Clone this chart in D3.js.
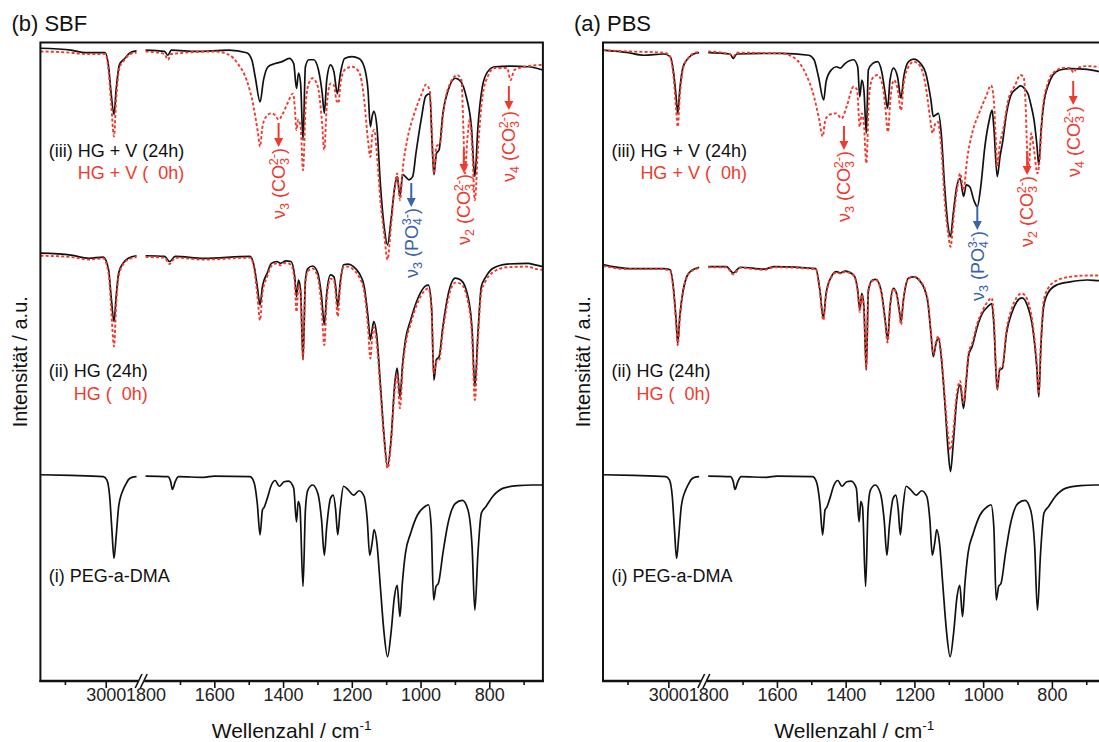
<!DOCTYPE html>
<html>
<head>
<meta charset="utf-8">
<script src="https://cdn.jsdelivr.net/npm/d3@7"></script>
<style>
  html, body { margin: 0; padding: 0; background: #fff; }
  svg { display: block; }
  text { font-family: "Liberation Sans", Arial, Helvetica, sans-serif; }
</style>
</head>
<body>
<svg id="chart" width="1099" height="742"></svg>
<script>
// ---------- FTIR spectra: [wavenumber in cm-1, intensity in a.u. (stacked)] ----------

// (i) PEG-a-DMA, shared by both panels
const pegDMA = [
  [3800,32.3],[3425,32.2],[3031,32.0],[2987,31.5],[2952,28.9],[2925,23.7],[2899,19.2],[2873,22.6],[2842,27.3],[2789,29.9],[2759,30.7],[2724,31.5],[2680,31.9],[2623,32.0],
  [1800,32.1],[1735,32.0],[1727,31.2],[1722,30.0],[1714,31.2],[1704,32.0],[1631,31.9],[1600,32.1],[1496,32.0],[1484,31.0],[1475,27.8],[1467,22.9],[1460,26.8],[1455,27.2],[1446,28.6],[1434,30.7],[1423,31.4],[1411,30.5],[1397,31.2],[1384,31.3],[1369,30.2],[1361,24.9],[1356,28.1],[1351,27.3],[1342,14.8],[1335,26.8],[1328,29.9],[1314,30.7],[1299,29.4],[1288,25.2],[1280,19.7],[1273,24.2],[1262,28.6],[1254,29.1],[1247,26.8],[1241,22.9],[1234,26.8],[1224,30.5],[1210,29.9],[1195,29.1],[1179,29.8],[1164,28.9],[1155,25.2],[1148,19.7],[1141,21.6],[1135,23.7],[1127,21.6],[1117,14.8],[1107,8.0],[1096,3.8],[1086,7.5],[1076,13.2],[1068,15.0],[1060,10.1],[1053,15.3],[1044,20.0],[1029,23.1],[1009,26.0],[988,27.3],[977,27.6],[969,24.2],[962,12.7],[955,14.8],[948,15.3],[935,20.0],[920,24.7],[899,27.8],[878,28.3],[862,26.8],[850,21.0],[842,11.1],[833,20.0],[823,26.3],[810,27.3],[790,28.9],[759,30.2],[717,30.6],[675,30.7],[644,30.7]
];

// SBF: (ii) hydrogel after 24 h / 0 h
const sbfHG24 = [
  [3800,67.0],[3425,66.7],[3206,66.2],[3031,66.4],[2965,64.4],[2934,60.2],[2899,56.3],[2873,60.2],[2842,63.9],[2789,65.4],[2724,66.2],[2623,66.6],
  [1800,66.6],[1745,66.5],[1730,65.7],[1714,66.5],[1631,66.2],[1496,66.5],[1484,64.9],[1475,61.8],[1467,58.9],[1460,61.8],[1446,63.9],[1434,65.4],[1418,65.7],[1408,65.4],[1392,65.8],[1377,65.7],[1366,63.3],[1361,60.2],[1355,62.8],[1349,61.2],[1342,50.3],[1335,62.8],[1328,64.6],[1314,65.0],[1299,63.9],[1288,60.2],[1280,55.8],[1273,60.7],[1262,63.6],[1252,63.3],[1247,61.8],[1241,58.6],[1234,62.3],[1224,65.2],[1210,65.3],[1195,64.9],[1179,63.9],[1164,61.8],[1153,57.1],[1146,53.4],[1141,55.0],[1136,56.3],[1127,53.9],[1117,46.6],[1106,38.3],[1096,33.6],[1086,37.7],[1075,46.6],[1068,49.0],[1060,44.5],[1052,49.8],[1044,53.4],[1029,56.5],[1008,59.9],[987,61.8],[977,62.0],[968,58.6],[961,47.1],[954,50.3],[946,50.8],[935,55.5],[919,60.7],[899,63.1],[883,62.8],[862,60.2],[850,55.0],[842,46.1],[833,54.5],[823,61.8],[810,63.3],[790,64.6],[748,65.3],[686,65.4],[670,65.2],[644,64.9]
];
const sbfHG0 = [
  [3800,66.6],[3425,66.4],[3206,66.0],[3031,66.2],[2965,63.8],[2934,58.5],[2899,52.4],[2873,58.8],[2842,63.4],[2789,65.2],[2724,66.0],[2623,66.4],
  [1800,66.4],[1745,66.3],[1730,65.3],[1714,66.3],[1631,66.0],[1496,66.3],[1484,64.5],[1475,60.5],[1467,56.5],[1460,60.8],[1446,63.4],[1434,65.0],[1418,65.4],[1408,65.1],[1392,65.5],[1377,65.2],[1366,62.5],[1361,57.8],[1355,62.0],[1349,60.4],[1342,50.5],[1335,62.3],[1328,64.2],[1314,64.6],[1299,63.2],[1288,58.5],[1280,52.6],[1273,59.7],[1262,63.0],[1252,62.8],[1247,60.8],[1241,57.1],[1234,61.6],[1224,64.8],[1210,64.9],[1195,64.4],[1179,63.3],[1164,61.0],[1153,55.5],[1146,50.5],[1141,53.6],[1136,55.4],[1127,52.7],[1117,45.6],[1106,37.8],[1096,33.3],[1086,37.2],[1075,45.6],[1068,48.0],[1060,42.7],[1052,48.9],[1044,52.6],[1029,55.9],[1008,59.3],[987,61.2],[977,61.5],[968,58.0],[961,48.2],[954,50.0],[946,50.2],[935,54.8],[919,60.0],[899,62.4],[883,62.2],[862,59.4],[850,53.8],[842,44.0],[833,53.4],[823,61.0],[810,62.7],[790,64.0],[748,64.8],[686,64.9],[670,64.6],[644,64.4]
];

// SBF: (iii) hydrogel + vaterite after 24 h / 0 h
const sbfHGV24 = [
  [3800,99.1],[3425,98.8],[3250,98.4],[3009,98.4],[2965,96.2],[2934,92.0],[2899,88.7],[2873,92.6],[2833,96.5],[2768,97.5],[2702,98.4],[2623,98.7],
  [1800,98.8],[1745,98.6],[1735,98.0],[1725,98.8],[1652,98.6],[1558,98.8],[1506,98.4],[1491,97.3],[1481,94.6],[1467,90.7],[1457,94.1],[1444,96.2],[1423,96.7],[1403,97.0],[1382,97.5],[1369,96.7],[1361,92.8],[1355,95.2],[1349,93.6],[1342,84.7],[1335,96.2],[1325,97.3],[1311,97.3],[1297,95.7],[1286,92.0],[1280,88.9],[1273,94.1],[1262,96.5],[1252,95.4],[1242,92.0],[1233,95.2],[1221,97.5],[1200,97.8],[1179,97.5],[1164,96.2],[1153,92.6],[1146,86.8],[1141,88.4],[1136,89.2],[1127,86.8],[1117,77.9],[1106,71.2],[1096,68.3],[1086,72.2],[1075,77.4],[1068,79.0],[1060,75.9],[1052,79.3],[1044,79.0],[1034,78.5],[1023,79.0],[1013,82.8],[998,88.0],[985,91.6],[973,92.0],[967,85.0],[961,79.3],[954,82.6],[946,83.2],[935,88.9],[919,92.6],[899,94.4],[883,93.9],[867,91.5],[852,86.8],[842,79.0],[833,86.8],[820,93.1],[805,95.4],[784,96.2],[738,96.3],[686,96.2],[644,95.7]
];
const sbfHGV0 = [
  [3800,98.6],[3425,98.4],[3250,98.2],[3009,98.2],[2965,95.5],[2934,90.5],[2899,85.3],[2873,91.0],[2833,96.0],[2768,97.3],[2702,98.2],[2623,98.4],
  [1800,98.6],[1745,98.2],[1735,97.3],[1725,98.2],[1600,98.6],[1558,98.1],[1532,96.7],[1506,94.1],[1486,90.0],[1473,85.8],[1467,83.7],[1460,86.8],[1449,88.4],[1434,88.9],[1423,88.6],[1413,87.9],[1403,88.6],[1387,90.5],[1371,92.0],[1366,89.9],[1361,86.3],[1356,87.9],[1349,86.8],[1342,80.0],[1334,90.5],[1325,93.6],[1314,94.4],[1299,93.1],[1288,88.4],[1280,83.2],[1273,90.0],[1262,93.6],[1252,93.3],[1245,91.0],[1239,90.5],[1233,93.6],[1221,95.7],[1200,96.2],[1179,95.4],[1164,91.0],[1153,84.7],[1146,82.1],[1140,85.8],[1135,86.3],[1127,82.6],[1117,75.3],[1106,70.1],[1096,66.0],[1086,71.2],[1075,77.4],[1068,79.5],[1060,75.3],[1051,80.6],[1039,84.7],[1018,88.9],[998,91.8],[984,93.4],[973,92.4],[967,86.0],[961,79.5],[954,83.7],[943,84.2],[933,89.4],[914,93.6],[893,94.9],[881,94.1],[875,85.8],[871,79.5],[864,84.7],[857,87.9],[850,83.7],[842,75.3],[833,83.2],[820,91.5],[805,94.6],[784,96.0],[748,96.0],[738,94.1],[727,95.7],[686,96.3],[644,96.5]
];

// PBS: (ii) hydrogel after 24 h / 0 h
const pbsHG24 = [
  [3800,65.2],[3487,64.6],[3056,64.6],[2978,64.4],[2935,61.2],[2905,56.5],[2885,52.9],[2860,57.1],[2819,61.2],[2776,63.3],[2733,64.1],[2668,64.6],[2623,64.8],
  [1800,64.9],[1747,64.9],[1727,63.9],[1707,64.8],[1637,64.5],[1607,64.9],[1487,64.6],[1475,61.2],[1465,56.8],[1457,60.7],[1442,63.3],[1427,64.1],[1415,63.9],[1402,64.2],[1377,63.6],[1365,61.2],[1359,58.1],[1353,60.7],[1347,58.6],[1340,48.7],[1334,61.2],[1322,62.8],[1312,62.9],[1297,61.2],[1285,56.5],[1278,53.4],[1271,58.6],[1261,61.5],[1252,60.7],[1244,58.1],[1239,56.3],[1232,59.7],[1217,63.1],[1202,63.3],[1182,62.5],[1162,59.7],[1152,54.5],[1145,50.8],[1137,52.9],[1130,53.7],[1122,50.8],[1112,44.0],[1102,36.2],[1095,32.8],[1087,37.2],[1077,44.0],[1067,46.4],[1057,42.7],[1049,47.1],[1042,51.1],[1032,52.4],[1017,55.5],[1002,57.6],[987,58.6],[975,59.1],[969,56.0],[959,45.6],[952,48.7],[944,49.0],[932,54.5],[917,57.6],[902,59.4],[887,60.0],[872,58.9],[855,55.0],[844,49.2],[838,44.5],[832,52.4],[824,58.6],[812,60.7],[787,62.0],[747,62.5],[697,62.8],[659,62.7],[644,62.7]
];
const pbsHG0 = [
  [3800,65.0],[3487,64.5],[3056,64.5],[2978,64.2],[2935,60.8],[2905,56.0],[2885,52.6],[2860,56.8],[2819,61.0],[2776,63.2],[2733,64.0],[2668,64.5],[2623,64.7],
  [1800,64.8],[1747,64.8],[1727,63.7],[1707,64.7],[1637,64.4],[1607,64.8],[1487,64.5],[1475,61.0],[1465,56.5],[1457,60.5],[1442,63.2],[1427,64.0],[1415,63.8],[1402,64.1],[1377,63.5],[1365,61.0],[1359,57.8],[1353,60.5],[1347,58.4],[1340,48.9],[1334,61.0],[1322,62.7],[1312,62.8],[1297,61.0],[1285,56.2],[1278,53.0],[1271,58.4],[1261,61.4],[1252,60.6],[1244,57.8],[1239,55.8],[1232,59.5],[1217,63.0],[1202,63.3],[1182,62.6],[1162,59.9],[1152,54.8],[1145,51.2],[1137,53.2],[1130,54.0],[1122,51.2],[1112,44.8],[1102,38.5],[1095,36.2],[1087,39.0],[1077,44.8],[1067,47.0],[1057,43.5],[1049,47.6],[1042,51.5],[1032,52.9],[1017,56.0],[1002,58.0],[987,59.4],[975,60.0],[969,57.0],[959,45.8],[952,48.9],[944,49.3],[932,55.0],[917,58.3],[902,60.1],[887,60.7],[872,59.8],[855,55.6],[844,49.8],[838,45.0],[832,53.0],[824,59.4],[812,61.4],[787,62.7],[747,63.3],[697,63.5],[659,63.5],[644,63.5]
];

// PBS: (iii) hydrogel + vaterite after 24 h / 0 h
const pbsHGV24 = [
  [3800,98.8],[3487,98.4],[3300,98.0],[3056,98.2],[2978,97.8],[2935,95.2],[2905,91.5],[2885,88.9],[2860,92.6],[2819,96.2],[2760,97.5],[2690,98.2],[2623,98.4],
  [1800,98.4],[1737,98.2],[1727,97.5],[1717,98.2],[1587,98.3],[1507,98.0],[1492,97.3],[1479,94.6],[1464,91.0],[1457,93.9],[1442,95.7],[1427,96.2],[1415,96.0],[1402,96.7],[1377,97.3],[1365,96.2],[1359,91.5],[1353,94.1],[1347,92.6],[1340,85.8],[1334,95.7],[1322,96.7],[1307,97.0],[1295,95.4],[1285,92.0],[1278,89.7],[1271,94.1],[1261,96.0],[1249,94.6],[1239,91.3],[1231,94.6],[1217,97.0],[1202,97.4],[1182,96.7],[1167,95.2],[1152,91.0],[1145,88.4],[1137,88.7],[1130,88.9],[1122,85.8],[1112,77.4],[1102,71.2],[1095,69.6],[1087,73.2],[1077,77.4],[1067,78.7],[1057,75.9],[1049,77.7],[1039,77.4],[1027,75.3],[1017,74.3],[1007,77.4],[995,83.7],[982,87.9],[974,89.4],[969,86.8],[959,79.0],[951,82.1],[944,84.2],[932,88.9],[917,92.0],[902,92.8],[892,93.2],[877,92.6],[869,91.9],[860,90.0],[852,87.9],[844,84.2],[838,80.8],[832,85.8],[822,91.0],[812,93.1],[797,94.9],[777,95.7],[747,95.9],[697,95.8],[659,95.4],[644,95.3]
];
const pbsHGV0 = [
  [3800,98.8],[3487,98.6],[3056,98.4],[2978,97.8],[2935,94.4],[2905,89.5],[2885,86.8],[2860,91.5],[2819,96.0],[2760,97.5],[2690,98.3],[2623,98.5],
  [1800,98.6],[1737,98.2],[1727,97.8],[1717,98.4],[1587,98.3],[1547,97.5],[1517,95.2],[1492,91.5],[1477,87.9],[1467,85.3],[1459,87.9],[1447,88.7],[1427,88.9],[1412,88.1],[1397,90.0],[1377,93.1],[1367,92.6],[1359,86.8],[1353,88.9],[1347,87.3],[1340,81.1],[1332,91.5],[1322,94.4],[1307,94.9],[1292,93.1],[1285,90.0],[1277,86.0],[1270,91.0],[1260,94.1],[1249,92.8],[1239,89.4],[1231,93.6],[1217,96.2],[1202,97.0],[1182,96.2],[1167,93.1],[1155,88.4],[1147,85.8],[1139,87.3],[1132,87.6],[1122,83.7],[1112,75.3],[1102,70.1],[1095,68.0],[1085,73.2],[1075,77.4],[1067,79.5],[1057,76.9],[1047,81.6],[1032,85.8],[1012,88.9],[992,91.5],[977,93.3],[969,91.0],[964,85.8],[959,80.6],[951,84.2],[942,86.3],[927,91.0],[907,93.3],[892,94.9],[882,94.6],[877,91.0],[872,83.2],[867,80.6],[860,85.8],[852,83.2],[842,79.5],[835,82.1],[827,89.4],[812,93.6],[797,95.2],[767,96.0],[747,96.0],[737,95.3],[727,96.0],[697,96.3],[659,96.2],[644,96.2]
];

// ---------- axis ----------
const highRange = [3800, 2620];   // C-H stretching window
const lowRange  = [1800, 644];    // fingerprint window
const majorTicksHigh = [3000];
const minorTicksHigh = [3500];
const majorTicksLow  = [1800, 1600, 1400, 1200, 1000, 800];
const minorTicksLow  = [1700, 1500, 1300, 1100, 900, 700];

// ---------- text ----------
const panelTitles = ["(b) SBF", "(a) PBS"];
const sampleLabels = [
  ["(iii) HG + V (24h)", "HG + V (  0h)"],
  ["(ii) HG (24h)", "HG (  0h)"],
  ["(i) PEG-a-DMA"]
];
const xTitle = "Wellenzahl / cm";
const yTitle = "Intensität / a.u.";

// marked bands: vibration index, ion, ion index, charge, position (cm-1)
const sbfBands = [
  ["3", "CO", "3", "2-", 1413, "carbonate"],
  ["3", "PO", "4", "3-", 1027, "phosphate"],
  ["2", "CO", "3", "2-", 874,  "carbonate"],
  ["4", "CO", "3", "2-", 743,  "carbonate"]
];
const pbsBands = [
  ["3", "CO", "3", "2-", 1405, "carbonate"],
  ["3", "PO", "4", "3-", 1017, "phosphate"],
  ["2", "CO", "3", "2-", 872,  "carbonate"],
  ["4", "CO", "3", "2-", 738,  "carbonate"]
];

// ---------- layout & style ----------
const RED = "#f03a2e", BLUE = "#3a62ad", INK = "#111";
const frameTop = 42.5, frameBottom = 681, frameW = 502.5;
const highW = 96.4, lowStart = 105.2;
const labelRows = [[156.5, 178.5], [376.5, 399.5], [581.5]];

const panels = [
  { left: 40.4, title: panelTitles[0], bands: sbfBands, arrowTips: [147, 207, 173, 110],
    pairs: [[sbfHGV24, sbfHGV0], [sbfHG24, sbfHG0], [pegDMA]] },
  { left: 603, title: panelTitles[1], bands: pbsBands, arrowTips: [150, 230, 175, 105],
    pairs: [[pbsHGV24, pbsHGV0], [pbsHG24, pbsHG0], [pegDMA]] }
];

const svg = d3.select("#chart");
const y = d3.scaleLinear().domain([0, 100]).range([frameBottom, frameTop]);

function makeX(left) {
  const hi = d3.scaleLinear().domain(highRange).range([left, left + highW]);
  const lo = d3.scaleLinear().domain(lowRange).range([left + lowStart, left + frameW]);
  const f = wn => (wn > 2200 ? hi(wn) : lo(wn));
  f.hi = hi; f.lo = lo;
  return f;
}

function drawSpectrum(g, x, data, dotted) {
  const line = d3.line().x(d => x(d[0])).y(d => y(d[1])).curve(d3.curveMonotoneX);
  const parts = [data.filter(d => d[0] > 2200), data.filter(d => d[0] <= 2200)];
  parts.forEach(p => {
    const path = g.append("path")
      .attr("d", line(p))
      .attr("fill", "none")
      .attr("stroke-linejoin", "round");
    if (dotted) {
      path.attr("stroke", RED).attr("stroke-width", 1.9).attr("stroke-dasharray", "3 2.2");
    } else {
      path.attr("stroke", INK).attr("stroke-width", 1.7);
    }
  });
}

function styleAxis(sel) {
  sel.select(".domain").remove();
  sel.selectAll(".tick line").attr("stroke", INK).attr("stroke-width", 1.6);
  sel.selectAll(".tick text")
    .attr("fill", "#222")
    .style("font-size", "18px")
    .style("font-family", '"Liberation Sans", Arial, sans-serif');
}

panels.forEach(p => {
  const x = makeX(p.left);
  const g = svg.append("g");

  // spectra: black (24 h / reference) then red dotted (0 h) on top
  p.pairs.forEach(pair => {
    drawSpectrum(g, x, pair[0], false);
    if (pair[1]) drawSpectrum(g, x, pair[1], true);
  });

  // frame
  g.append("rect")
    .attr("x", p.left).attr("y", frameTop)
    .attr("width", frameW).attr("height", frameBottom - frameTop)
    .attr("fill", "none").attr("stroke", INK).attr("stroke-width", 2);
  g.append("line")
    .attr("x1", p.left - 1).attr("x2", p.left + frameW + 1)
    .attr("y1", frameBottom).attr("y2", frameBottom)
    .attr("stroke", INK).attr("stroke-width", 2.6);

  // bottom axis: major + minor ticks on both windows
  const ax = g.append("g").attr("transform", `translate(0,${frameBottom})`);
  ax.append("g").call(d3.axisBottom(x.hi).tickValues(majorTicksHigh).tickSize(7).tickPadding(0).tickFormat(d3.format("d"))).call(styleAxis);
  ax.append("g").call(d3.axisBottom(x.hi).tickValues(minorTicksHigh).tickSize(4).tickFormat("")).call(styleAxis);
  const lowMajor = ax.append("g").call(d3.axisBottom(x.lo).tickValues(majorTicksLow).tickSize(7).tickPadding(0).tickFormat(d3.format("d"))).call(styleAxis);
  lowMajor.selectAll(".tick").filter(d => d === 1800).select("line").remove();
  ax.append("g").call(d3.axisBottom(x.lo).tickValues(minorTicksLow).tickSize(4).tickFormat("")).call(styleAxis);

  // axis break marks
  const cx = p.left + (highW + lowStart) / 2;
  ax.append("rect").attr("x", cx - 3).attr("y", -3).attr("width", 6).attr("height", 6).attr("fill", "#fff");
  [-2.6, 2.6].forEach(o => {
    ax.append("line")
      .attr("x1", cx + o - 3.4).attr("y1", 7)
      .attr("x2", cx + o + 3.4).attr("y2", -7)
      .attr("stroke", INK).attr("stroke-width", 1.6);
  });

  // panel title
  svg.append("text")
    .attr("x", p.left - 29).attr("y", 31)
    .attr("fill", INK).style("font-size", "22px")
    .text(p.title);

  // axis titles
  const xt = svg.append("text")
    .attr("x", p.left + frameW / 2).attr("y", 738)
    .attr("text-anchor", "middle").attr("fill", INK)
    .style("font-size", "21px");
  xt.append("tspan").text(xTitle);
  xt.append("tspan").attr("dy", -8).style("font-size", "13.5px").text("-1");

  svg.append("text")
    .attr("transform", `translate(${p.left - 20},${(frameTop + frameBottom) / 2}) rotate(-90)`)
    .attr("text-anchor", "middle").attr("dominant-baseline", "central")
    .attr("fill", INK).style("font-size", "20px")
    .text(yTitle);

  // sample labels: black 24 h line, red 0 h line right-aligned beneath
  sampleLabels.forEach((lab, i) => {
    const tx = p.left + 8.4;
    const t1 = svg.append("text")
      .attr("x", tx).attr("y", labelRows[i][0])
      .attr("fill", INK).style("font-size", "18px").style("white-space", "pre")
      .text(lab[0]);
    if (lab[1]) {
      const w = t1.node().getComputedTextLength();
      svg.append("text")
        .attr("x", tx + w).attr("y", labelRows[i][1])
        .attr("text-anchor", "end")
        .attr("fill", RED).style("font-size", "18px").style("white-space", "pre")
        .text(lab[1]);
    }
  });

  // band markers: arrow + rotated assignment label
  p.bands.forEach((b, i) => {
    const [mode, ion, ionSub, charge, wn, kind] = b;
    const col = kind === "phosphate" ? BLUE : RED;
    const bx = x(wn);
    const tip = p.arrowTips[i];
    g.append("line")
      .attr("x1", bx).attr("x2", bx)
      .attr("y1", tip - 24).attr("y2", tip - 7)
      .attr("stroke", col).attr("stroke-width", 2);
    g.append("path")
      .attr("d", `M${bx - 4.5},${tip - 9} L${bx + 4.5},${tip - 9} L${bx},${tip} Z`)
      .attr("fill", col);

    const t = g.append("text")
      .attr("transform", `translate(${bx},${tip + 1}) rotate(-90)`)
      .attr("text-anchor", "end")
      .attr("fill", col).style("font-size", "18px").style("white-space", "pre");
    t.append("tspan").attr("dy", 6.3).text("\u03BD");
    t.append("tspan").attr("dy", 4).style("font-size", "12.5px").text(mode);
    t.append("tspan").attr("dy", -4).text(" (" + ion);
    t.append("tspan").attr("dy", 4).style("font-size", "12.5px").text(ionSub);
    t.append("tspan").attr("dy", -11).attr("dx", -7).style("font-size", "12.5px").text(charge);
    t.append("tspan").attr("dy", 7).text(")");
  });
});
</script>
</body>
</html>
